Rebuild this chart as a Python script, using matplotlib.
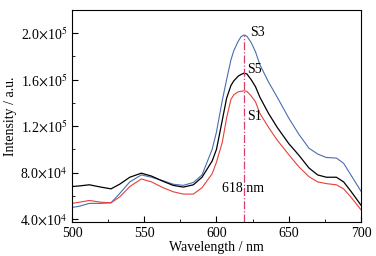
import matplotlib
matplotlib.use("Agg")
import matplotlib.pyplot as plt
from matplotlib.ticker import MultipleLocator, FuncFormatter

plt.rcParams["font.family"] = ["Liberation Serif", "DejaVu Serif"]
plt.rcParams["mathtext.fontset"] = "stix"
plt.rcParams["font.size"] = 10

# Wavelength grid (nm)
wavelength = [500, 505, 512, 520, 527, 533, 540, 548, 555, 563, 570, 577, 584, 590,
              597, 600, 604, 607, 610, 612, 615, 617, 619, 621, 624, 627, 630, 636,
              642, 650, 657, 664, 670, 676, 683, 688, 693, 700]

# Emission intensities (a.u.)
s3 = [5.00e4, 5.10e4, 5.35e4, 5.35e4, 5.40e4, 6.20e4, 7.20e4, 7.80e4, 7.60e4, 7.30e4,
      7.00e4, 6.90e4, 7.15e4, 7.80e4, 1.00e5, 1.15e5, 1.42e5, 1.60e5, 1.77e5, 1.85e5,
      1.93e5, 1.97e5, 1.985e5, 1.975e5, 1.92e5, 1.84e5, 1.73e5, 1.58e5, 1.45e5, 1.27e5,
      1.13e5, 1.01e5, 9.60e4, 9.30e4, 9.25e4, 8.80e4, 7.80e4, 6.40e4]
s5 = [6.80e4, 6.85e4, 6.95e4, 6.75e4, 6.60e4, 7.00e4, 7.60e4, 7.95e4, 7.70e4, 7.25e4,
      6.90e4, 6.75e4, 6.95e4, 7.60e4, 9.00e4, 1.00e5, 1.25e5, 1.44e5, 1.55e5, 1.59e5,
      1.63e5, 1.645e5, 1.656e5, 1.65e5, 1.60e5, 1.54e5, 1.45e5, 1.31e5, 1.19e5, 1.05e5,
      9.50e4, 8.40e4, 7.80e4, 7.60e4, 7.60e4, 7.20e4, 6.40e4, 5.20e4]
s1 = [5.35e4, 5.45e4, 5.60e4, 5.45e4, 5.40e4, 5.90e4, 6.80e4, 7.45e4, 7.20e4, 6.70e4,
      6.35e4, 6.15e4, 6.15e4, 6.70e4, 7.90e4, 8.90e4, 1.06e5, 1.27e5, 1.43e5, 1.47e5,
      1.495e5, 1.50e5, 1.504e5, 1.50e5, 1.46e5, 1.41e5, 1.31e5, 1.19e5, 1.08e5, 9.55e4,
      8.50e4, 7.65e4, 7.20e4, 7.05e4, 6.95e4, 6.60e4, 5.90e4, 4.80e4]

peak_nm = 619
peak_label = "618 nm"

fig = plt.figure(figsize=(3.76, 2.56), dpi=100)
ax = fig.add_axes([0.1915, 0.133, 0.7685, 0.828])

ax.plot(wavelength, s3, color="#4a6db0", lw=0.8)
ax.plot(wavelength, s5, color="black", lw=0.9)
ax.plot(wavelength, s1, color="#e8403a", lw=0.8)
ax.vlines(peak_nm, 3.75e4, max(s3), colors="#d8406a", linestyles="dashdot", lw=0.9)

ax.text(623.5, 2.01e5, "S3", ha="left", va="center")
ax.text(621, 1.69e5, "S5", ha="left", va="center")
ax.text(621, 1.28e5, "S1", ha="left", va="center")
ax.text(618.7, 6.6e4, peak_label, ha="center", va="center")

ax.set_xlim(500, 700)
ax.set_ylim(3.75e4, 2.2e5)
ax.xaxis.set_major_locator(MultipleLocator(50))
ax.xaxis.set_minor_locator(MultipleLocator(25))
ax.yaxis.set_major_locator(MultipleLocator(4e4))
ax.yaxis.set_minor_locator(MultipleLocator(2e4))


def sci_fmt(v, pos):
    exp = len(str(int(v))) - 1
    return "%.1f$\\times$10$^{%d}$" % (v / 10 ** exp, exp)


ax.yaxis.set_major_formatter(FuncFormatter(sci_fmt))
ax.tick_params(which="both", direction="in", top=False, right=False)
ax.tick_params(which="major", length=4)
ax.tick_params(which="minor", length=2)

ax.set_xlabel("Wavelength / nm", labelpad=1)
ax.set_ylabel("Intensity / a.u.", labelpad=2)

fig.savefig("out.png", dpi=100)
